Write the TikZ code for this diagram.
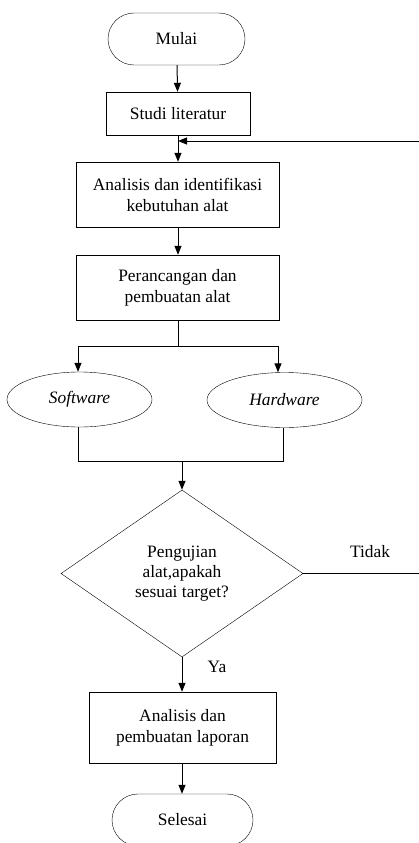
\documentclass[tikz,border=0pt]{standalone}
\usepackage{fontspec}
\setmainfont{Liberation Serif}
\usetikzlibrary{shapes.geometric,arrows.meta}
\begin{document}
\begin{tikzpicture}[x=1pt,y=-1pt,
  every node/.style={font=\fontsize{17.4pt}{21pt}\selectfont, align=center, inner sep=0pt},
  term/.style={draw, rounded corners=26pt, minimum width=137pt, minimum height=52pt},
  proc/.style={draw, minimum height=43pt},
  io/.style={draw, ellipse, minimum height=55pt, font=\fontsize{17.4pt}{21pt}\selectfont\itshape},
  dec/.style={draw, diamond, aspect=1.45, minimum width=242pt, minimum height=167pt, font=\fontsize{17.4pt}{20pt}\selectfont},
  line/.style={line width=1pt},
  arr/.style={line width=1pt, -{Triangle[length=9pt,width=7pt]}},
  lbl/.style={font=\fontsize{17.4pt}{21pt}\selectfont}
]
\useasboundingbox (0,0) rectangle (418,843);
\node[term] (mulai) at (176.5,39) {Mulai};
\node[proc, minimum width=144pt, minimum height=43pt] (studi) at (178,113.5) {Studi literatur};
\node[proc, minimum width=203pt, minimum height=65pt] (anal) at (177.5,194.5) {Analisis dan identifikasi\\kebutuhan alat};
\node[proc, minimum width=203pt, minimum height=65pt] (ranc) at (177.5,287.5) {Perancangan dan\\pembuatan alat};
\node[io, minimum width=145pt] (soft) at (79.5,399.5) {Software};
\node[io, minimum width=155pt] (hard) at (284.5,400) {Hardware};
\node[dec] (uji) at (182,573.5) {Pengujian\\alat,apakah\\sesuai target?};
\node[proc, minimum width=187pt, minimum height=71pt] (lap) at (182.5,727.5) {Analisis dan\\pembuatan laporan};
\node[term, minimum width=141pt] (selesai) at (182.5,820) {Selesai};
\node[lbl] (tidak) at (370,552) {Tidak};
\node[lbl] (ya) at (217,667) {Ya};

\coordinate (split) at (178,346);
\coordinate (sl) at (78,346);
\coordinate (sr) at (278,346);
\coordinate (jl) at (78,461);
\coordinate (jr) at (283,461);
\coordinate (jm) at (182,461);
\coordinate (fb) at (178,141);
\coordinate (rb) at (421,573.5);
\coordinate (rt) at (421,141);

\draw[arr] (mulai) -- (studi);
\draw[arr] (studi.south -| fb) -- (anal.north -| fb);
\draw[arr] (anal.south -| fb) -- (ranc.north -| fb);
\draw[arr] (ranc.south -| split) -- (split) -- (sl) -- (sl |- soft.north);
\draw[arr] (split) -- (sr) -- (sr |- hard.north);
\draw[line] (soft.south -| jl) -- (jl) -- (jr) -- (hard.south -| jr);
\draw[arr] (jm) -- (uji.north);
\draw[arr] (uji.south) -- (lap.north -| uji.south);
\draw[arr] (lap.south -| uji.south) -- (selesai.north -| uji.south);
\draw[arr] (uji.east) -- (rb) -- (rt) -- (fb);
\end{tikzpicture}
\end{document}
